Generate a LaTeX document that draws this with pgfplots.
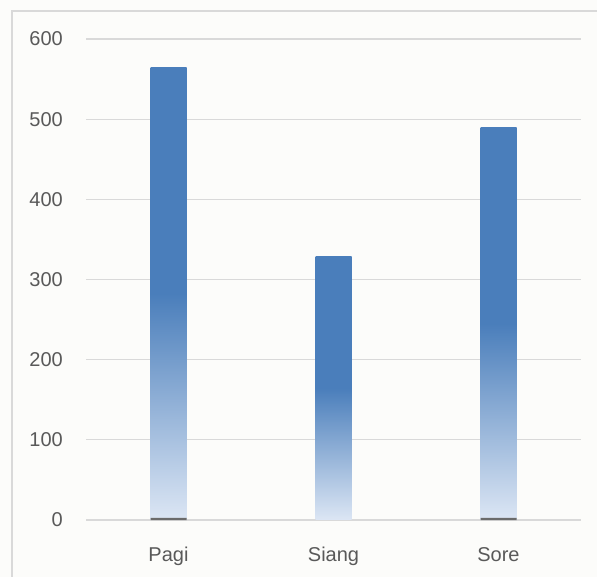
\documentclass[border=0pt]{standalone}
\usepackage{fontspec}
\setmainfont{Liberation Sans}
\usepackage{pgfplots}
\pgfplotsset{compat=1.18}
\definecolor{barblue}{HTML}{4A7EBB}
\definecolor{barlight}{HTML}{DCE6F4}
\definecolor{gridc}{HTML}{D9D9D9}
\definecolor{txt}{HTML}{595959}
\definecolor{bgc}{HTML}{FCFCFA}
\definecolor{framec}{HTML}{D9D9D9}
\definecolor{darkseg}{HTML}{6B6B6B}
\begin{document}
\begin{tikzpicture}
\useasboundingbox (0,0) rectangle (597bp,577bp);
\fill[bgc] (0,0) rectangle (597bp,577bp);
\draw[framec, line width=1.2bp] (12bp,0) -- (12bp,566bp) -- (597bp,566bp);
\begin{axis}[
  at={(86bp,57bp)}, anchor=south west,
  scale only axis, width=495bp, height=481bp,
  xmin=-0.5, xmax=2.5, ymin=0, ymax=600,
  ytick={0,100,...,600},
  xtick={0,1,2}, xticklabels={Pagi,Siang,Sore},
  axis line style={draw=none},
  tick style={draw=none},
  ymajorgrids,
  grid style={gridc, line width=1.2bp},
  ticklabel style={font=\fontsize{20bp}{24bp}\selectfont, text=txt},
  yticklabel style={inner sep=0pt, anchor=east, xshift=-23bp},
  xticklabel style={inner sep=0pt, anchor=north, yshift=-27bp},
  /pgf/number format/assume math mode=true,
  clip=false,
  barstyle/.style={ybar, bar width=36bp, bar shift=0pt, draw=none,
    top color=barblue, bottom color=barlight, middle color=barblue},
]
\addplot[barstyle] coordinates {(0,565)};
\addplot[barstyle] coordinates {(1,329)};
\addplot[barstyle] coordinates {(2,490)};
\addplot[ybar, bar width=36bp, bar shift=0pt, draw=none, fill=darkseg]
  coordinates {(0,2.5) (2,2.5)};
\end{axis}
\end{tikzpicture}
\end{document}
